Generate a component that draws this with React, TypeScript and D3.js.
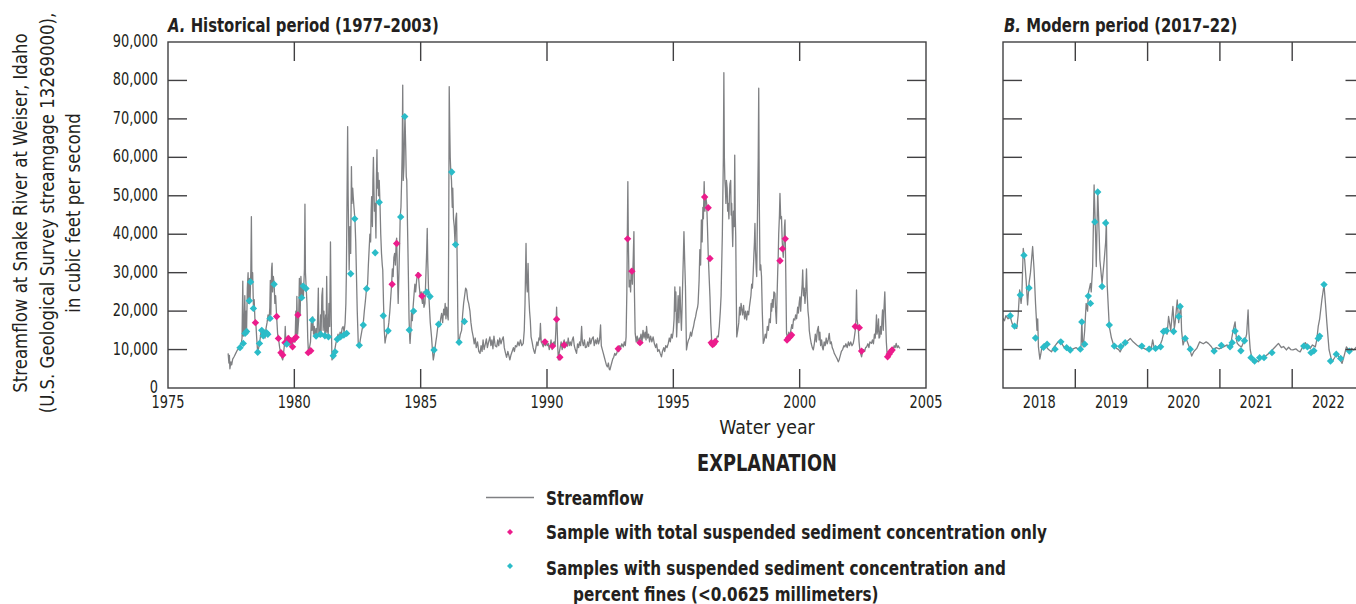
import React from "react";
import * as d3 from "d3";

// Daily streamflow, Snake River at Weiser, Idaho — [water-year position, thousand ft³/s]
const historicalFlow: [number, number][] = [
  [1977.38, 9.0], [1977.41, 6.5], [1977.43, 8.5], [1977.45, 5.0], [1977.49, 6.8], [1977.52, 6.0], [1977.56, 7.5], [1977.62, 8.2], [1977.68, 9.0], [1977.74, 9.8], [1977.8, 10.2], [1977.85, 10.7], [1977.9, 11.5], [1977.93, 13.0], [1977.96, 27.8], [1977.98, 13.5],
  [1978.01, 15.0], [1978.04, 24.0], [1978.06, 14.5], [1978.09, 20.0], [1978.11, 15.0], [1978.14, 26.0], [1978.17, 30.0], [1978.19, 22.0], [1978.22, 28.5], [1978.25, 23.0], [1978.28, 31.0], [1978.3, 44.6], [1978.32, 28.0], [1978.35, 30.0], [1978.38, 21.5], [1978.41, 23.0], [1978.44, 18.0], [1978.48, 16.5], [1978.51, 13.0], [1978.55, 9.2], [1978.59, 10.5], [1978.63, 12.0], [1978.68, 14.5], [1978.72, 15.5], [1978.76, 13.5], [1978.8, 14.5], [1978.84, 13.0], [1978.88, 15.5], [1978.92, 17.0], [1978.96, 19.0],
  [1979.0, 17.5], [1979.03, 21.0], [1979.05, 28.0], [1979.07, 19.0], [1979.1, 31.0], [1979.12, 32.5], [1979.14, 25.0], [1979.17, 29.0], [1979.2, 27.0], [1979.23, 22.0], [1979.26, 24.0], [1979.3, 18.5], [1979.34, 14.0], [1979.38, 12.5], [1979.42, 10.5], [1979.46, 9.0], [1979.5, 8.0], [1979.54, 7.3], [1979.58, 9.5], [1979.62, 12.0], [1979.64, 16.0], [1979.67, 11.0], [1979.71, 12.5], [1979.75, 11.5], [1979.79, 13.5], [1979.83, 11.0], [1979.87, 13.0], [1979.91, 10.5], [1979.95, 12.5], [1979.99, 13.3],
  [1980.03, 12.0], [1980.06, 20.0], [1980.08, 13.0], [1980.1, 23.8], [1980.13, 14.0], [1980.17, 17.7], [1980.2, 28.5], [1980.23, 19.0], [1980.26, 29.0], [1980.3, 23.0], [1980.33, 27.0], [1980.36, 24.0], [1980.4, 31.0], [1980.42, 47.8], [1980.44, 30.0], [1980.47, 26.0], [1980.5, 22.0], [1980.53, 13.0], [1980.56, 9.0], [1980.6, 10.5], [1980.64, 12.0], [1980.67, 17.0], [1980.7, 15.0], [1980.73, 18.5], [1980.76, 14.0], [1980.79, 16.0], [1980.82, 13.3], [1980.86, 15.5], [1980.9, 14.0], [1980.93, 20.0], [1980.95, 26.0], [1980.97, 14.0],
  [1981.01, 13.3], [1981.04, 19.0], [1981.06, 14.5], [1981.09, 24.0], [1981.12, 26.0], [1981.14, 15.0], [1981.17, 20.0], [1981.21, 14.0], [1981.24, 19.0], [1981.26, 14.5], [1981.28, 29.0], [1981.31, 15.0], [1981.34, 14.0], [1981.37, 22.0], [1981.4, 16.0], [1981.43, 38.0], [1981.46, 18.0], [1981.49, 7.3], [1981.53, 8.0], [1981.57, 9.0], [1981.6, 9.9], [1981.64, 11.5], [1981.68, 12.5], [1981.73, 14.0], [1981.77, 12.8], [1981.81, 14.5], [1981.85, 13.5], [1981.89, 15.5], [1981.93, 16.0], [1981.97, 14.5],
  [1982.01, 17.0], [1982.04, 22.0], [1982.06, 30.0], [1982.08, 45.0], [1982.11, 68.0], [1982.13, 50.0], [1982.15, 40.0], [1982.17, 30.7], [1982.2, 42.0], [1982.23, 35.0], [1982.26, 57.6], [1982.28, 48.0], [1982.31, 52.0], [1982.33, 49.8], [1982.36, 47.0], [1982.4, 43.7], [1982.43, 38.0], [1982.46, 29.0], [1982.49, 20.0], [1982.53, 11.7], [1982.57, 10.7], [1982.61, 12.5], [1982.65, 14.0], [1982.69, 15.5], [1982.73, 17.0], [1982.77, 20.0], [1982.81, 22.5], [1982.86, 26.0], [1982.9, 27.0], [1982.93, 32.0], [1982.96, 36.0], [1982.99, 40.0],
  [1983.02, 38.0], [1983.04, 46.0], [1983.06, 49.8], [1983.09, 42.0], [1983.11, 54.0], [1983.13, 60.0], [1983.15, 52.0], [1983.17, 46.0], [1983.2, 48.0], [1983.23, 39.0], [1983.25, 55.0], [1983.27, 62.0], [1983.29, 52.0], [1983.31, 56.0], [1983.33, 50.0], [1983.36, 54.0], [1983.39, 48.0], [1983.42, 40.0], [1983.45, 35.0], [1983.48, 32.0], [1983.5, 30.7], [1983.53, 22.0], [1983.56, 15.0], [1983.59, 11.7], [1983.62, 13.0], [1983.66, 14.0], [1983.7, 15.0], [1983.74, 17.0], [1983.78, 20.0], [1983.82, 24.0], [1983.85, 27.0], [1983.88, 31.0], [1983.91, 29.0], [1983.94, 34.0], [1983.97, 35.0],
  [1984.0, 32.0], [1984.03, 38.0], [1984.05, 39.0], [1984.08, 30.0], [1984.11, 22.0], [1984.14, 30.0], [1984.17, 38.0], [1984.19, 44.6], [1984.22, 47.0], [1984.25, 55.0], [1984.27, 62.0], [1984.29, 78.8], [1984.31, 54.0], [1984.34, 58.0], [1984.36, 66.0], [1984.38, 70.6], [1984.41, 62.0], [1984.43, 55.0], [1984.45, 54.0], [1984.48, 42.0], [1984.51, 30.7], [1984.54, 18.0], [1984.57, 12.5], [1984.58, 11.6], [1984.61, 15.0], [1984.64, 20.0], [1984.67, 17.5], [1984.7, 21.0], [1984.74, 24.5], [1984.77, 27.0], [1984.8, 25.0], [1984.84, 28.0], [1984.88, 30.0], [1984.91, 29.4], [1984.95, 26.0], [1984.98, 24.0],
  [1985.02, 25.0], [1985.04, 23.7], [1985.07, 22.0], [1985.1, 25.0], [1985.13, 21.0], [1985.17, 22.0], [1985.21, 30.0], [1985.24, 36.0], [1985.26, 41.5], [1985.28, 33.0], [1985.31, 26.0], [1985.34, 22.0], [1985.38, 17.0], [1985.43, 13.3], [1985.47, 9.5], [1985.5, 7.3], [1985.53, 8.5], [1985.57, 10.5], [1985.6, 12.0], [1985.63, 13.3], [1985.67, 15.5], [1985.71, 17.0], [1985.75, 16.0], [1985.79, 18.0], [1985.83, 19.4], [1985.87, 17.0], [1985.91, 20.5], [1985.94, 19.0], [1985.97, 22.0],
  [1986.0, 18.0], [1986.03, 21.0], [1986.06, 19.0], [1986.09, 17.7], [1986.11, 40.0], [1986.13, 78.4], [1986.15, 68.0], [1986.17, 60.0], [1986.19, 56.7], [1986.22, 54.0], [1986.25, 47.0], [1986.27, 52.0], [1986.3, 44.0], [1986.33, 42.0], [1986.36, 37.6], [1986.39, 44.0], [1986.42, 45.5], [1986.45, 30.0], [1986.47, 18.0], [1986.49, 11.6], [1986.53, 12.5], [1986.57, 14.0], [1986.62, 15.0], [1986.66, 19.0], [1986.7, 22.0], [1986.74, 24.0], [1986.78, 26.0], [1986.82, 25.5], [1986.86, 23.0], [1986.9, 22.0], [1986.95, 20.0], [1986.99, 17.0],
  [1987.03, 15.0], [1987.08, 13.3], [1987.12, 11.5], [1987.16, 13.0], [1987.2, 10.5], [1987.25, 12.0], [1987.3, 9.5], [1987.35, 9.0], [1987.39, 11.0], [1987.43, 9.5], [1987.47, 12.5], [1987.51, 10.0], [1987.56, 11.5], [1987.6, 12.8], [1987.64, 10.5], [1987.69, 12.0], [1987.74, 13.3], [1987.78, 11.0], [1987.82, 12.5], [1987.86, 10.2], [1987.9, 13.5], [1987.95, 11.0],
  [1988.01, 10.7], [1988.05, 12.5], [1988.09, 11.0], [1988.13, 13.0], [1988.18, 11.5], [1988.22, 12.5], [1988.27, 13.3], [1988.31, 10.5], [1988.36, 9.0], [1988.4, 8.0], [1988.45, 9.5], [1988.49, 8.5], [1988.53, 7.3], [1988.57, 8.5], [1988.62, 9.5], [1988.67, 10.5], [1988.71, 9.5], [1988.75, 11.0], [1988.8, 10.7], [1988.85, 12.0], [1988.9, 11.0], [1988.95, 12.5],
  [1989.0, 11.0], [1989.06, 11.6], [1989.1, 15.0], [1989.13, 22.0], [1989.15, 30.0], [1989.17, 37.6], [1989.19, 28.0], [1989.22, 25.0], [1989.25, 32.4], [1989.28, 24.0], [1989.31, 20.0], [1989.34, 17.5], [1989.37, 13.3], [1989.41, 12.0], [1989.45, 10.5], [1989.49, 9.5], [1989.52, 9.0], [1989.56, 10.5], [1989.6, 12.0], [1989.64, 11.0], [1989.68, 13.0], [1989.71, 12.5], [1989.74, 16.8], [1989.77, 12.0], [1989.81, 11.5], [1989.85, 10.7], [1989.89, 12.5], [1989.93, 11.0], [1989.97, 12.0],
  [1990.01, 11.0], [1990.05, 11.6], [1990.09, 10.0], [1990.12, 10.7], [1990.16, 12.5], [1990.2, 10.0], [1990.24, 11.5], [1990.28, 12.0], [1990.32, 11.0], [1990.35, 15.0], [1990.38, 21.0], [1990.41, 14.0], [1990.43, 10.0], [1990.45, 7.3], [1990.48, 9.0], [1990.52, 10.5], [1990.56, 12.0], [1990.6, 10.0], [1990.64, 11.6], [1990.68, 12.5], [1990.72, 10.5], [1990.76, 12.0], [1990.8, 10.8], [1990.84, 13.0], [1990.88, 11.0], [1990.92, 12.0], [1990.96, 11.0],
  [1991.0, 12.5], [1991.04, 13.3], [1991.08, 11.0], [1991.12, 10.0], [1991.17, 9.0], [1991.21, 11.5], [1991.25, 10.5], [1991.29, 12.0], [1991.33, 11.0], [1991.37, 16.0], [1991.4, 12.0], [1991.44, 11.0], [1991.48, 12.5], [1991.52, 10.5], [1991.57, 10.7], [1991.61, 12.0], [1991.65, 10.8], [1991.69, 13.0], [1991.73, 11.5], [1991.78, 12.8], [1991.83, 13.3], [1991.87, 11.0], [1991.92, 12.5], [1991.96, 11.5],
  [1992.0, 13.0], [1992.04, 11.5], [1992.08, 12.5], [1992.12, 16.4], [1992.15, 11.0], [1992.19, 10.0], [1992.23, 9.0], [1992.27, 8.0], [1992.31, 7.0], [1992.35, 6.0], [1992.39, 5.5], [1992.43, 6.5], [1992.46, 5.0], [1992.49, 4.7], [1992.52, 5.5], [1992.56, 6.5], [1992.6, 7.5], [1992.64, 8.0], [1992.68, 9.0], [1992.72, 8.5], [1992.76, 9.0], [1992.8, 10.0], [1992.84, 9.5], [1992.88, 11.0], [1992.92, 10.5], [1992.96, 11.5],
  [1993.02, 10.7], [1993.06, 12.0], [1993.1, 11.0], [1993.13, 13.3], [1993.16, 25.0], [1993.18, 40.0], [1993.2, 53.7], [1993.22, 38.0], [1993.24, 30.0], [1993.25, 26.3], [1993.28, 28.0], [1993.31, 25.0], [1993.33, 31.0], [1993.35, 30.7], [1993.38, 27.0], [1993.41, 33.0], [1993.44, 40.7], [1993.46, 25.0], [1993.49, 14.2], [1993.53, 12.0], [1993.57, 13.5], [1993.61, 11.5], [1993.65, 13.0], [1993.68, 12.5], [1993.72, 14.0], [1993.76, 12.0], [1993.8, 15.0], [1993.84, 13.0], [1993.88, 14.5], [1993.92, 12.5], [1993.94, 16.0], [1993.98, 13.0],
  [1994.02, 14.0], [1994.06, 12.0], [1994.1, 13.5], [1994.15, 12.0], [1994.2, 13.3], [1994.25, 11.5], [1994.3, 10.5], [1994.34, 11.5], [1994.38, 9.5], [1994.43, 10.0], [1994.48, 9.0], [1994.53, 8.1], [1994.57, 9.5], [1994.62, 10.5], [1994.66, 9.5], [1994.7, 11.0], [1994.75, 10.5], [1994.8, 11.6], [1994.84, 13.0], [1994.88, 12.0], [1994.92, 14.0], [1994.96, 13.0],
  [1995.0, 15.0], [1995.03, 18.0], [1995.06, 26.3], [1995.08, 20.0], [1995.1, 25.0], [1995.13, 13.3], [1995.16, 18.0], [1995.19, 24.0], [1995.22, 17.0], [1995.26, 26.3], [1995.29, 20.0], [1995.32, 15.0], [1995.35, 22.0], [1995.38, 30.0], [1995.4, 35.0], [1995.42, 40.7], [1995.45, 33.0], [1995.48, 26.3], [1995.5, 18.0], [1995.52, 9.9], [1995.56, 11.5], [1995.6, 12.5], [1995.64, 13.0], [1995.68, 14.5], [1995.72, 13.5], [1995.76, 15.0], [1995.8, 16.0], [1995.84, 17.5], [1995.88, 18.5], [1995.92, 20.0], [1995.96, 21.0], [1995.98, 22.0],
  [1996.02, 28.0], [1996.05, 36.0], [1996.08, 32.0], [1996.11, 43.7], [1996.14, 38.0], [1996.17, 47.0], [1996.19, 44.0], [1996.22, 53.7], [1996.25, 46.0], [1996.28, 50.0], [1996.32, 48.0], [1996.35, 42.0], [1996.38, 35.0], [1996.41, 30.0], [1996.45, 23.7], [1996.48, 17.0], [1996.52, 12.0], [1996.56, 11.5], [1996.6, 11.8], [1996.65, 12.5], [1996.7, 12.5], [1996.74, 13.5], [1996.78, 13.3], [1996.82, 16.0], [1996.86, 20.0], [1996.89, 24.0], [1996.91, 30.7], [1996.94, 40.0], [1996.96, 50.0], [1996.98, 60.0],
  [1997.0, 82.0], [1997.02, 60.0], [1997.04, 54.0], [1997.06, 52.0], [1997.08, 48.0], [1997.1, 54.0], [1997.13, 52.0], [1997.15, 46.0], [1997.17, 48.0], [1997.2, 44.0], [1997.22, 50.0], [1997.24, 53.0], [1997.27, 54.0], [1997.29, 45.0], [1997.31, 48.0], [1997.33, 42.0], [1997.35, 36.8], [1997.38, 46.0], [1997.41, 42.0], [1997.43, 60.6], [1997.45, 45.0], [1997.47, 39.4], [1997.49, 25.0], [1997.51, 13.3], [1997.55, 15.0], [1997.59, 17.0], [1997.62, 21.0], [1997.65, 19.0], [1997.68, 22.0], [1997.7, 21.0], [1997.74, 19.0], [1997.78, 21.5], [1997.82, 18.0], [1997.86, 20.0], [1997.9, 17.7], [1997.94, 20.0], [1997.98, 19.0],
  [1998.01, 21.0], [1998.03, 22.0], [1998.07, 24.0], [1998.1, 27.0], [1998.13, 26.0], [1998.16, 29.8], [1998.19, 35.0], [1998.21, 38.0], [1998.23, 42.8], [1998.25, 36.0], [1998.28, 31.0], [1998.3, 29.0], [1998.33, 45.0], [1998.36, 60.0], [1998.38, 78.0], [1998.4, 50.0], [1998.43, 30.7], [1998.46, 32.0], [1998.49, 29.0], [1998.52, 20.0], [1998.56, 11.6], [1998.6, 12.5], [1998.64, 14.0], [1998.68, 13.0], [1998.72, 16.0], [1998.76, 15.0], [1998.8, 18.0], [1998.84, 17.0], [1998.87, 22.0], [1998.89, 20.0], [1998.92, 23.0], [1998.95, 21.0], [1998.98, 25.0],
  [1999.02, 24.6], [1999.05, 20.0], [1999.08, 16.8], [1999.11, 25.0], [1999.13, 30.0], [1999.15, 34.0], [1999.17, 40.0], [1999.2, 45.0], [1999.22, 50.6], [1999.25, 44.0], [1999.28, 44.6], [1999.31, 38.0], [1999.33, 36.0], [1999.35, 34.0], [1999.38, 38.0], [1999.4, 42.0], [1999.42, 43.7], [1999.45, 30.0], [1999.48, 14.2], [1999.52, 13.0], [1999.57, 14.5], [1999.61, 13.3], [1999.65, 15.0], [1999.69, 16.5], [1999.72, 15.5], [1999.76, 18.0], [1999.81, 17.7], [1999.84, 19.0], [1999.88, 18.0], [1999.92, 21.0], [1999.95, 19.5], [1999.98, 22.0],
  [2000.01, 23.7], [2000.04, 20.0], [2000.07, 24.0], [2000.1, 27.0], [2000.12, 30.7], [2000.15, 24.0], [2000.18, 26.0], [2000.21, 22.0], [2000.24, 25.0], [2000.27, 31.0], [2000.3, 24.0], [2000.33, 20.0], [2000.36, 18.0], [2000.38, 15.0], [2000.42, 13.0], [2000.46, 11.5], [2000.5, 10.5], [2000.54, 9.9], [2000.58, 11.5], [2000.62, 14.0], [2000.66, 12.0], [2000.7, 15.0], [2000.74, 16.0], [2000.77, 12.5], [2000.8, 14.5], [2000.83, 11.0], [2000.87, 12.5], [2000.9, 10.5], [2000.93, 9.9], [2000.97, 12.0],
  [2001.01, 11.0], [2001.05, 13.0], [2001.09, 11.5], [2001.13, 12.5], [2001.17, 14.2], [2001.21, 11.5], [2001.25, 12.0], [2001.29, 10.5], [2001.33, 9.9], [2001.37, 9.0], [2001.41, 8.5], [2001.45, 8.0], [2001.49, 7.5], [2001.53, 6.8], [2001.57, 7.5], [2001.61, 8.5], [2001.65, 9.5], [2001.7, 10.0], [2001.75, 11.0], [2001.79, 10.7], [2001.83, 11.5], [2001.88, 10.5], [2001.93, 12.0], [2001.97, 11.0],
  [2002.02, 12.0], [2002.07, 11.0], [2002.12, 11.6], [2002.16, 13.0], [2002.2, 15.0], [2002.23, 18.0], [2002.25, 25.5], [2002.27, 18.0], [2002.3, 16.5], [2002.32, 15.5], [2002.35, 12.0], [2002.38, 10.0], [2002.42, 8.8], [2002.45, 8.1], [2002.49, 9.5], [2002.53, 10.0], [2002.57, 9.5], [2002.61, 10.5], [2002.65, 10.7], [2002.7, 11.5], [2002.74, 10.5], [2002.78, 12.0], [2002.84, 11.6], [2002.88, 12.5], [2002.92, 11.5], [2002.96, 14.0], [2002.99, 13.0],
  [2003.02, 16.0], [2003.04, 19.0], [2003.06, 14.0], [2003.09, 15.0], [2003.12, 18.0], [2003.14, 13.0], [2003.17, 13.3], [2003.2, 16.0], [2003.23, 14.0], [2003.26, 18.0], [2003.28, 20.3], [2003.31, 15.0], [2003.34, 21.0], [2003.37, 25.0], [2003.4, 18.0], [2003.43, 12.0], [2003.46, 9.0], [2003.5, 8.5], [2003.54, 9.5], [2003.58, 10.0], [2003.62, 9.8], [2003.66, 10.5], [2003.7, 10.0], [2003.74, 11.0], [2003.78, 10.5], [2003.82, 11.6], [2003.86, 10.5], [2003.9, 11.0], [2003.94, 10.5], [2003.97, 10.3],
];

const modernFlow: [number, number][] = [
  [2017.75, 18.1], [2017.77, 17.5], [2017.79, 18.8], [2017.82, 18.0], [2017.85, 18.6], [2017.87, 17.2], [2017.89, 16.0], [2017.92, 15.8], [2017.94, 15.5], [2017.96, 19.0], [2017.98, 25.5], [2018.0, 22.0], [2018.01, 23.8], [2018.03, 36.3], [2018.05, 33.3], [2018.07, 28.0], [2018.09, 21.6], [2018.11, 27.2], [2018.13, 30.0], [2018.16, 36.8], [2018.18, 30.7], [2018.2, 22.0], [2018.22, 15.0], [2018.23, 18.0], [2018.24, 10.7], [2018.26, 7.5], [2018.29, 10.7], [2018.32, 11.5], [2018.35, 10.7], [2018.38, 10.0], [2018.42, 9.4], [2018.45, 10.5], [2018.49, 11.5], [2018.54, 12.5], [2018.58, 11.0], [2018.62, 10.2], [2018.65, 10.8], [2018.68, 9.4], [2018.72, 10.2], [2018.76, 10.5], [2018.81, 9.9], [2018.83, 11.0], [2018.84, 17.7], [2018.85, 12.0], [2018.86, 10.7], [2018.88, 15.0], [2018.9, 22.0], [2018.92, 20.0], [2018.93, 24.6], [2018.96, 27.2], [2018.97, 25.0], [2018.99, 31.6], [2019.01, 52.8], [2019.03, 40.0], [2019.04, 31.6], [2019.06, 51.5], [2019.08, 40.0], [2019.09, 33.3], [2019.12, 27.2], [2019.15, 33.3], [2019.17, 38.0], [2019.18, 43.7], [2019.19, 27.2], [2019.22, 16.0], [2019.25, 13.0], [2019.28, 11.2], [2019.32, 10.3], [2019.35, 10.0], [2019.37, 9.4], [2019.41, 11.0], [2019.46, 12.0], [2019.51, 12.9], [2019.55, 12.0], [2019.6, 11.2], [2019.65, 10.5], [2019.7, 10.3], [2019.74, 9.9], [2019.78, 10.8], [2019.8, 10.2], [2019.82, 12.5], [2019.84, 10.5], [2019.86, 9.9], [2019.9, 10.8], [2019.93, 11.5], [2019.95, 12.5], [2019.97, 14.0], [2019.99, 15.5], [2020.02, 14.0], [2020.04, 18.6], [2020.07, 15.0], [2020.1, 21.2], [2020.12, 15.5], [2020.13, 16.8], [2020.16, 22.9], [2020.18, 17.0], [2020.19, 19.0], [2020.21, 21.2], [2020.22, 15.0], [2020.24, 11.2], [2020.27, 13.0], [2020.29, 12.5], [2020.32, 11.0], [2020.36, 8.3], [2020.39, 9.5], [2020.43, 10.3], [2020.47, 12.0], [2020.52, 11.5], [2020.56, 12.0], [2020.59, 11.6], [2020.63, 10.8], [2020.66, 9.9], [2020.7, 10.5], [2020.74, 10.2], [2020.8, 10.7], [2020.85, 11.2], [2020.89, 10.7], [2020.91, 12.5], [2020.93, 14.7], [2020.96, 17.2], [2020.98, 12.5], [2020.99, 11.6], [2021.02, 11.0], [2021.05, 10.7], [2021.08, 12.0], [2021.1, 12.5], [2021.12, 14.0], [2021.14, 20.3], [2021.15, 15.0], [2021.17, 9.9], [2021.19, 8.0], [2021.21, 6.6], [2021.25, 7.3], [2021.28, 6.8], [2021.32, 7.8], [2021.36, 8.0], [2021.4, 8.6], [2021.44, 9.2], [2021.48, 10.0], [2021.52, 10.8], [2021.56, 11.6], [2021.6, 10.5], [2021.63, 10.8], [2021.67, 9.9], [2021.7, 10.6], [2021.73, 10.0], [2021.76, 9.9], [2021.8, 10.2], [2021.83, 9.7], [2021.86, 9.4], [2021.89, 10.5], [2021.93, 11.8], [2021.96, 11.0], [2022.0, 10.3], [2022.03, 11.2], [2022.07, 10.7], [2022.09, 12.5], [2022.11, 16.0], [2022.13, 18.0], [2022.16, 22.9], [2022.19, 26.8], [2022.21, 22.0], [2022.23, 16.8], [2022.26, 9.9], [2022.3, 6.8], [2022.34, 8.0], [2022.37, 9.0], [2022.41, 7.5], [2022.44, 6.4], [2022.47, 8.5], [2022.5, 10.7], [2022.54, 9.6], [2022.57, 10.3], [2022.6, 9.9], [2022.64, 10.7], [2022.68, 10.2], [2022.72, 10.5], [2022.75, 10.0],
];

// Samples analysed for total suspended-sediment concentration only
const tssOnlySamples: [number, number][] = [
  [1978.46, 17.0], [1979.3, 18.6], [1979.37, 12.9], [1979.47, 9.2], [1979.54, 8.6], [1979.63, 11.8], [1979.76, 12.9], [1979.86, 12.3], [1979.93, 10.7], [1979.99, 12.7], [1980.07, 13.2], [1980.14, 19.0], [1980.55, 9.2], [1980.65, 9.7],
  [1983.87, 27.0], [1984.05, 37.6], [1984.91, 29.3], [1985.05, 23.9],
  [1989.92, 12.0], [1990.22, 10.9], [1990.38, 17.9], [1990.51, 8.0], [1990.68, 11.2],
  [1992.82, 10.2], [1993.19, 38.8], [1993.36, 30.4], [1993.68, 11.8],
  [1996.24, 49.7], [1996.38, 46.9], [1996.45, 33.7], [1996.5, 11.8], [1996.55, 11.3], [1996.6, 11.5], [1996.66, 12.1],
  [1999.22, 33.1], [1999.32, 36.2], [1999.43, 38.8], [1999.5, 12.5], [1999.56, 13.0], [1999.62, 13.3], [1999.68, 13.8],
  [2002.2, 16.0], [2002.36, 15.7], [2002.45, 9.6], [2003.48, 8.1], [2003.54, 8.8], [2003.6, 9.4], [2003.66, 9.9],
];

// Samples with suspended-sediment concentration and percent fines
const finesSamplesHistorical: [number, number][] = [
  [1977.85, 10.5], [1977.98, 11.6], [1978.05, 14.2], [1978.11, 14.7], [1978.22, 22.7], [1978.27, 27.6], [1978.38, 20.7], [1978.55, 9.3], [1978.62, 11.6], [1978.71, 15.0], [1978.77, 13.6], [1978.82, 14.2], [1978.9, 14.4], [1978.95, 14.0], [1979.04, 18.1], [1979.2, 27.0], [1979.7, 11.4],
  [1980.29, 23.5], [1980.35, 26.5], [1980.46, 25.9], [1980.71, 17.7], [1980.86, 13.5], [1981.04, 14.0], [1981.21, 13.6], [1981.35, 13.3], [1981.54, 8.4], [1981.61, 9.4], [1981.7, 12.7], [1981.83, 13.3], [1981.96, 13.8], [1982.07, 14.2], [1982.23, 29.7], [1982.39, 44.0], [1982.57, 11.1], [1982.73, 16.4], [1982.86, 25.8],
  [1983.2, 35.2], [1983.36, 48.3], [1983.52, 18.8], [1983.71, 14.9], [1984.21, 44.5], [1984.37, 70.6], [1984.55, 15.1], [1984.72, 20.0], [1985.24, 24.9], [1985.37, 23.8], [1985.53, 9.9], [1985.71, 16.6], [1986.23, 56.2], [1986.38, 37.3], [1986.52, 11.9], [1986.73, 17.3],
];

const finesSamplesModern: [number, number][] = [
  [2017.85, 18.8], [2017.91, 16.1], [2017.99, 24.2], [2018.04, 34.5], [2018.11, 26.0], [2018.2, 13.0], [2018.31, 10.6], [2018.36, 11.4], [2018.47, 10.1], [2018.55, 12.0], [2018.63, 10.5], [2018.68, 9.9], [2018.82, 10.1], [2018.84, 17.2], [2018.88, 11.4], [2018.93, 23.9], [2018.96, 22.0],
  [2019.02, 43.2], [2019.06, 51.0], [2019.12, 26.4], [2019.17, 42.9], [2019.22, 16.4], [2019.29, 10.9], [2019.38, 10.8], [2019.44, 11.8], [2019.67, 10.9], [2019.77, 10.1], [2019.86, 10.3], [2019.93, 10.7], [2019.97, 14.7],
  [2020.01, 14.9], [2020.11, 14.7], [2020.18, 18.6], [2020.2, 21.2], [2020.27, 12.9], [2020.34, 10.1], [2020.67, 9.6], [2020.77, 11.1], [2020.89, 10.7], [2020.92, 11.8], [2020.96, 14.8],
  [2021.01, 12.9], [2021.04, 9.7], [2021.09, 12.3], [2021.18, 7.9], [2021.23, 7.0], [2021.3, 7.9], [2021.36, 7.9], [2021.47, 9.2], [2021.91, 10.9], [2021.96, 10.7],
  [2022.01, 9.2], [2022.05, 9.7], [2022.11, 12.9], [2022.13, 13.5], [2022.19, 26.9], [2022.28, 7.0], [2022.36, 8.8], [2022.42, 7.7], [2022.54, 9.6],
];

const flowTicks = [0, 10, 20, 30, 40, 50, 60, 70, 80, 90];
const historicalYearTicks = [1975, 1980, 1985, 1990, 1995, 2000, 2005];
// water-year boundaries (1 October) and the water years they enclose
const modernYearBounds = [2017.75, 2018.75, 2019.75, 2020.75, 2021.75, 2022.75];
const modernYearLabels = [2018, 2019, 2020, 2021, 2022];

const yLabelLines = [
  "Streamflow at Snake River at Weiser, Idaho",
  "(U.S. Geological Survey streamgage 13269000),",
  "in cubic feet per second",
];

const LINE = "#7f8083";
const PINK = "#ec1c8c";
const CYAN = "#2bbcc8";
const INK = "#231f20";
const FRAME = "#414042";
const FONT = "'DejaVu Sans Condensed', 'DejaVu Sans', sans-serif";

const top = 42;
const bottom = 388;
const tickLen = 19;

const y = d3.scaleLinear().domain([0, 90]).range([bottom, top]);
const xA = d3.scaleLinear().domain([1975, 2005]).range([168, 926]);
const xB = d3.scaleLinear().domain([2017.75, 2022.75]).range([1003, 1364.5]);

const diamond = (s: number) => `M0,${-s}L${s},0L0,${s}L${-s},0Z`;
const fmt = d3.format(",");

// Narrowed text, drawn at (x, y) and squeezed horizontally by sx
function NText({ x, y: ty, sx = 1, rotate = 0, anchor = "start", size, bold = false, children }: {
  x: number; y: number; sx?: number; rotate?: number; anchor?: string; size: number; bold?: boolean; children: React.ReactNode;
}) {
  return (
    <text
      transform={`translate(${x},${ty}) rotate(${rotate}) scale(${sx},1)`}
      textAnchor={anchor}
      fontSize={size}
      fontWeight={bold ? "bold" : "normal"}
      fill={INK}
    >
      {children}
    </text>
  );
}

function Panel({ x, flow, samples, clipId }: {
  x: d3.ScaleLinear<number, number>;
  flow: [number, number][];
  samples: { data: [number, number][]; color: string }[];
  clipId: string;
}) {
  const [x0, x1] = x.range();
  const line = d3.line<[number, number]>().x((d) => x(d[0])).y((d) => y(d[1]));
  return (
    <g>
      <clipPath id={clipId}>
        <rect x={x0} y={top} width={x1 - x0} height={bottom - top} />
      </clipPath>
      <g clipPath={`url(#${clipId})`}>
        <path d={line(flow) ?? ""} fill="none" stroke={LINE} strokeWidth={1.3} strokeLinejoin="round" />
        {samples.map((s, i) => (
          <g key={i} fill={s.color}>
            {s.data.map((d, j) => (
              <path key={j} d={diamond(3.7)} transform={`translate(${x(d[0])},${y(d[1])})`} />
            ))}
          </g>
        ))}
      </g>
      <g stroke={FRAME} strokeWidth={1.4} fill="none">
        <rect x={x0} y={top} width={x1 - x0} height={bottom - top} />
        {flowTicks.slice(1, -1).map((t) => (
          <g key={t}>
            <line x1={x0} x2={x0 + tickLen} y1={y(t)} y2={y(t)} />
            <line x1={x1} x2={x1 - tickLen} y1={y(t)} y2={y(t)} />
          </g>
        ))}
      </g>
    </g>
  );
}

export default function App() {
  return (
    <svg width={1356} height={604} style={{ position: "absolute", left: 0, top: 0, background: "#fff" }} fontFamily={FONT}>
      {/* y-axis title */}
      {yLabelLines.map((t, i) => (
        <NText key={i} x={27 + i * 26.5} y={213} rotate={-90} sx={0.97} anchor="middle" size={19}>{t}</NText>
      ))}

      {/* panel titles */}
      <NText x={168} y={32} sx={0.87} size={19} bold>
        <tspan fontStyle="italic">A.</tspan> Historical period (1977–2003)
      </NText>
      <NText x={1004} y={32} sx={0.87} size={19} bold>
        <tspan fontStyle="italic">B.</tspan> Modern period (2017–22)
      </NText>

      <Panel x={xA} flow={historicalFlow} clipId="clipA" samples={[
        { data: tssOnlySamples, color: PINK },
        { data: finesSamplesHistorical, color: CYAN },
      ]} />
      <Panel x={xB} flow={modernFlow} clipId="clipB" samples={[
        { data: finesSamplesModern, color: CYAN },
      ]} />

      {/* year ticks */}
      <g stroke={FRAME} strokeWidth={1.4}>
        {historicalYearTicks.slice(1, -1).map((t) => (
          <g key={t}>
            <line x1={xA(t)} x2={xA(t)} y1={top} y2={top + tickLen} />
            <line x1={xA(t)} x2={xA(t)} y1={bottom} y2={bottom - tickLen} />
          </g>
        ))}
        {modernYearBounds.slice(1, -1).map((t) => (
          <g key={t}>
            <line x1={xB(t)} x2={xB(t)} y1={top} y2={top + tickLen} />
            <line x1={xB(t)} x2={xB(t)} y1={bottom} y2={bottom - tickLen} />
          </g>
        ))}
      </g>

      {/* tick labels */}
      {flowTicks.map((t) => (
        <NText key={t} x={158} y={y(t) + 5} sx={0.8} anchor="end" size={18}>{fmt(t * 1000)}</NText>
      ))}
      {historicalYearTicks.map((t) => (
        <NText key={t} x={xA(t)} y={408} sx={0.8} anchor="middle" size={18}>{t}</NText>
      ))}
      {modernYearLabels.map((t) => (
        <NText key={t} x={xB(t + 0.25)} y={408} sx={0.8} anchor="middle" size={18}>{t}</NText>
      ))}
      <NText x={767} y={434} sx={0.99} anchor="middle" size={19.5}>Water year</NText>

      {/* explanation */}
      <NText x={767} y={471} sx={0.86} anchor="middle" size={23} bold>EXPLANATION</NText>
      <line x1={486} x2={534} y1={497.5} y2={497.5} stroke={LINE} strokeWidth={1.3} />
      <NText x={546} y={505} sx={0.845} size={20} bold>Streamflow</NText>
      <path d={diamond(3)} transform="translate(510,532)" fill={PINK} />
      <NText x={546} y={539} sx={0.845} size={20} bold>Sample with total suspended sediment concentration only</NText>
      <path d={diamond(3)} transform="translate(510,566)" fill={CYAN} />
      <NText x={546} y={575} sx={0.845} size={20} bold>Samples with suspended sediment concentration and</NText>
      <NText x={573} y={601} sx={0.845} size={20} bold>percent fines (&lt;0.0625 millimeters)</NText>
    </svg>
  );
}
